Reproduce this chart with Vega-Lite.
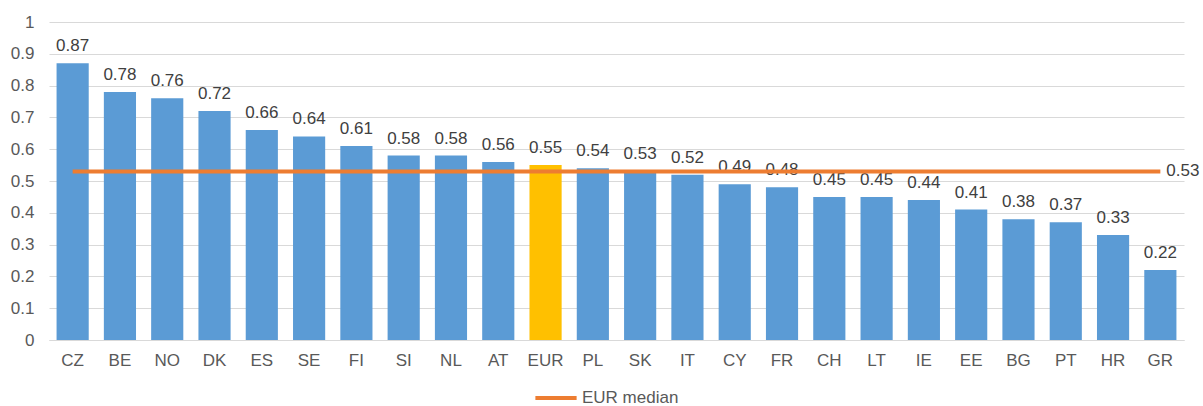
{
  "$schema": "https://vega.github.io/schema/vega-lite/v6.json",
  "autosize": "none",
  "width": 1135,
  "height": 318,
  "padding": {"left": 49, "top": 22, "right": 19, "bottom": 66},
  "background": "white",
  "config": {
    "font": "Liberation Sans",
    "view": {"stroke": null}
  },
  "data": {"values": [
    {"country": "CZ", "value": 0.87, "median": 0.53},
    {"country": "BE", "value": 0.78, "median": 0.53},
    {"country": "NO", "value": 0.76, "median": 0.53},
    {"country": "DK", "value": 0.72, "median": 0.53},
    {"country": "ES", "value": 0.66, "median": 0.53},
    {"country": "SE", "value": 0.64, "median": 0.53},
    {"country": "FI", "value": 0.61, "median": 0.53},
    {"country": "SI", "value": 0.58, "median": 0.53},
    {"country": "NL", "value": 0.58, "median": 0.53},
    {"country": "AT", "value": 0.56, "median": 0.53},
    {"country": "EUR", "value": 0.55, "median": 0.53},
    {"country": "PL", "value": 0.54, "median": 0.53},
    {"country": "SK", "value": 0.53, "median": 0.53},
    {"country": "IT", "value": 0.52, "median": 0.53},
    {"country": "CY", "value": 0.49, "median": 0.53},
    {"country": "FR", "value": 0.48, "median": 0.53},
    {"country": "CH", "value": 0.45, "median": 0.53},
    {"country": "LT", "value": 0.45, "median": 0.53},
    {"country": "IE", "value": 0.44, "median": 0.53},
    {"country": "EE", "value": 0.41, "median": 0.53},
    {"country": "BG", "value": 0.38, "median": 0.53},
    {"country": "PT", "value": 0.37, "median": 0.53},
    {"country": "HR", "value": 0.33, "median": 0.53},
    {"country": "GR", "value": 0.22, "median": 0.53}
  ]},
  "encoding": {
    "x": {
      "field": "country", "type": "nominal", "sort": null,
      "scale": {"paddingInner": 0.32, "paddingOuter": 0.16},
      "axis": {
        "title": null, "labelAngle": 0, "ticks": false,
        "domainColor": "#D9D9D9", "labelColor": "#595959",
        "labelFontSize": 17, "labelPadding": 12
      }
    },
    "y": {
      "field": "value", "type": "quantitative",
      "scale": {"domain": [0, 1], "nice": false},
      "axis": {
        "title": null, "values": [0, 0.1, 0.2, 0.3, 0.4, 0.5, 0.6, 0.7, 0.8, 0.9, 1],
        "format": "~g",
        "domain": false, "ticks": false, "gridColor": "#D9D9D9",
        "labelColor": "#595959", "labelFontSize": 17, "labelPadding": 15
      }
    }
  },
  "layer": [
    {
      "mark": {"type": "bar"},
      "encoding": {
        "color": {
          "condition": {"test": "datum.country === 'EUR'", "value": "#FFC000"},
          "value": "#5B9BD5"
        }
      }
    },
    {
      "mark": {"type": "text", "baseline": "alphabetic", "dy": -12, "fontSize": 17, "color": "#404040"},
      "encoding": {
        "text": {"field": "value", "type": "quantitative", "format": ".2f"}
      }
    },
    {
      "mark": {"type": "line", "strokeWidth": 4},
      "encoding": {
        "y": {"field": "median", "type": "quantitative"},
        "color": {
          "datum": "EUR median", "type": "nominal",
          "scale": {"domain": ["EUR median"], "range": ["#ED7D31"]},
          "legend": {
            "title": null, "orient": "none", "direction": "horizontal",
            "legendX": 484, "legendY": 366, "clipHeight": 20, "padding": 0,
            "symbolType": "stroke", "symbolSize": 1700, "symbolStrokeWidth": 4,
            "labelFontSize": 17, "labelColor": "#595959", "labelOffset": 3
          }
        }
      }
    },
    {
      "transform": [{"filter": "datum.country === 'GR'"}],
      "mark": {"type": "text", "align": "left", "baseline": "middle", "dx": 6, "fontSize": 17, "color": "#404040"},
      "encoding": {
        "y": {"field": "median", "type": "quantitative"},
        "text": {"field": "median", "type": "quantitative", "format": ".2f"}
      }
    }
  ]
}
